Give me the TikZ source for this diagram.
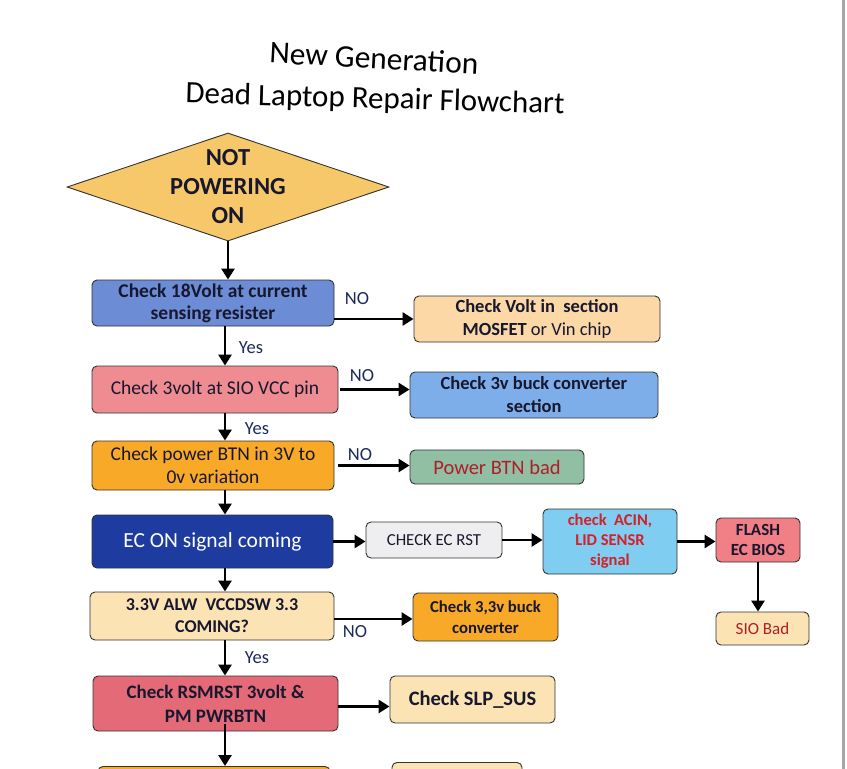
\documentclass[tikz,border=0pt]{standalone}
\usepackage{fontspec}
\setmainfont{Carlito}
\usetikzlibrary{positioning,arrows.meta,shapes.geometric}
\definecolor{Ink}{HTML}{17172E}
\definecolor{Navy}{HTML}{1B2A5C}
\definecolor{DarkRed}{HTML}{B01E2A}
\definecolor{BrightRed}{HTML}{D42027}
\definecolor{Gold}{HTML}{F6C86A}
\definecolor{MidBlue}{HTML}{6C8CD5}
\definecolor{Peach}{HTML}{FBD8A5}
\definecolor{Rose}{HTML}{EE8C92}
\definecolor{SkyBlue}{HTML}{7EAEEA}
\definecolor{Amber}{HTML}{F9A928}
\definecolor{Sage}{HTML}{90BFA3}
\definecolor{Royal}{HTML}{1E3C9F}
\definecolor{Mist}{HTML}{EEEDF0}
\definecolor{Cyan}{HTML}{7FCDF1}
\definecolor{Salmon}{HTML}{F07F86}
\definecolor{Cream}{HTML}{FBE3B3}
\definecolor{Crimson}{HTML}{E56A77}
\newcommand{\fs}[2]{\fontsize{#1}{#2}\selectfont}

\begin{document}
\begin{tikzpicture}[x=1pt,y=-1pt,
    box/.style={draw=black!80,line width=0.9pt,rounded corners=5pt,align=center,inner sep=2pt,text=Ink,font=\fs{19.5}{23}},
    arr/.style={-{Triangle[length=11pt,width=13pt]},line width=2.8pt,black},
    lbl/.style={font=\fs{18.5}{20},text=Navy}]
  \useasboundingbox (0,0) rectangle (847,769);
  \clip (0,0) rectangle (847,769);
  \fill[white] (0,0) rectangle (847,769);
  \fill[black!35] (842,0) rectangle (845,769);
  % title
  \node[font=\fs{31.5}{34},rotate=-3.2,text=black,inner sep=0pt] (title1) at (374,58) {New Generation};
  \node[font=\fs{31}{34},rotate=-1.6,text=black,inner sep=0pt] (title2) at (375,100) {Dead Laptop Repair Flowchart};
  % start
  \node[diamond,draw=black!80,line width=0.9pt,fill=Gold,minimum width=322pt,minimum height=108pt,inner sep=0pt] (dia) at (228,187) {};
  \node[font=\bfseries\fs{24.5}{29},text=Ink,align=center] (diatext) at (dia) {NOT\\POWERING\\ON};
  \coordinate (spine) at (225,0);
  % main column
  \node[box,fill=MidBlue,minimum width=242pt,minimum height=46pt,font=\bfseries\fs{19.5}{22}] (b1) at (213,303) {Check 18Volt at current\\sensing resister};
  \node[box,fill=Rose,minimum width=246pt,minimum height=47pt] (b3) at (215,389.5) {Check 3volt at SIO VCC pin};
  \node[box,fill=Amber,minimum width=242pt,minimum height=49pt] (b5) at (213,465.5) {Check power BTN in 3V to\\0v variation};
  \node[box,fill=Royal,minimum width=241pt,minimum height=53pt,text=white,font=\fs{21.5}{25}] (b7) at (212.5,541.5) {EC ON signal coming};
  \node[box,fill=Cream,minimum width=244pt,minimum height=48pt,font=\bfseries\fs{18}{22}] (b12) at (212,616) {3.3V ALW\ \ VCCDSW 3.3\\COMING?};
  \node[box,fill=Crimson,minimum width=245pt,minimum height=55pt,font=\bfseries\fs{19}{24}] (b14) at (215.5,703.5) {Check RSMRST 3volt \&\\PM PWRBTN};
  \node[box,fill=Amber,minimum width=232pt,minimum height=40pt,anchor=north] (b16) at (214,766) {};
  % right side
  \node[box,fill=Peach,minimum width=246pt,minimum height=46pt,font=\fs{18.5}{23}] (b2) at (537,319) {\textbf{Check Volt in\ \ section}\\\textbf{MOSFET} or Vin chip};
  \node[box,fill=SkyBlue,minimum width=248pt,minimum height=46pt,font=\bfseries\fs{18.5}{23}] (b4) at (534,395) {Check 3v buck converter\\section};
  \node[box,fill=Sage,minimum width=174pt,minimum height=34pt,text=DarkRed,font=\fs{20.5}{23}] (b6) at (497,467) {Power BTN bad};
  \node[box,fill=Mist,minimum width=136pt,minimum height=36pt,font=\fs{16.8}{19}] (b8) at (434,540) {CHECK EC RST};
  \node[box,fill=Cyan,minimum width=134pt,minimum height=65pt,text=BrightRed,font=\bfseries\fs{16.5}{20}] (b9) at (610,541.5) {check\ \ ACIN,\\LID SENSR\\signal};
  \node[box,fill=Salmon,minimum width=84pt,minimum height=44pt,font=\bfseries\fs{17}{20}] (b10) at (758,540) {FLASH\\EC BIOS};
  \node[box,fill=Cream,minimum width=93pt,minimum height=33pt,text=DarkRed,font=\fs{17}{19}] (b11) at (762.5,628.5) {SIO Bad};
  \node[box,fill=Amber,minimum width=145pt,minimum height=48pt,font=\bfseries\fs{16.7}{21}] (b13) at (485.5,617) {Check 3,3v buck\\converter};
  \node[box,fill=Cream,minimum width=165pt,minimum height=47pt,font=\bfseries\fs{20.5}{23}] (b15) at (472.5,699.5) {Check SLP\_SUS};
  \node[box,fill=Cream,minimum width=130pt,minimum height=40pt,anchor=north] (b17) at (457,762) {};
  % down arrows
  \draw[arr] (dia.south) -- (dia.south |- b1.north);
  \draw[arr] (b1.south -| spine) -- (b3.north -| spine);
  \draw[arr] (b3.south -| spine) -- (b5.north -| spine);
  \draw[arr] (b5.south -| spine) -- (b7.north -| spine);
  \draw[arr] (b7.south -| spine) -- (b12.north -| spine);
  \draw[arr] (b12.south -| spine) -- (b14.north -| spine);
  \draw[arr] ([yshift=7pt]b14.south -| spine) -- (b16.north -| spine);
  \draw[arr] (b10.south) -- (b10.south |- b11.north);
  % side arrows
  \draw[arr] (b1.east |- b2.west) -- (b2.west);
  \draw[arr] ([xshift=2pt]b3.east) -- (b3.east -| b4.west);
  \draw[arr] ([xshift=4pt]b5.east) -- (b5.east -| b6.west);
  \draw[arr] (b7.east) -- (b7.east -| b8.west);
  \draw[arr] (b8.east) -- (b8.east -| b9.west);
  \draw[arr] (b9.east) -- (b9.east -| b10.west);
  \draw[arr] ([yshift=-3pt]b12.east) -- ([yshift=-3pt]b12.east -| b13.west);
  \draw[arr] ([yshift=-3pt]b14.east) -- ([yshift=-3pt]b14.east -| b15.west);
  % labels
  \node[lbl] (no1) at (357,299) {NO};
  \node[lbl] (yes1) at (251,348) {Yes};
  \node[lbl] (no2) at (362,376) {NO};
  \node[lbl] (yes2) at (257,429) {Yes};
  \node[lbl] (no3) at (360,455) {NO};
  \node[lbl] (no4) at (355,632) {NO};
  \node[lbl] (yes3) at (257,658) {Yes};
\end{tikzpicture}
\end{document}
